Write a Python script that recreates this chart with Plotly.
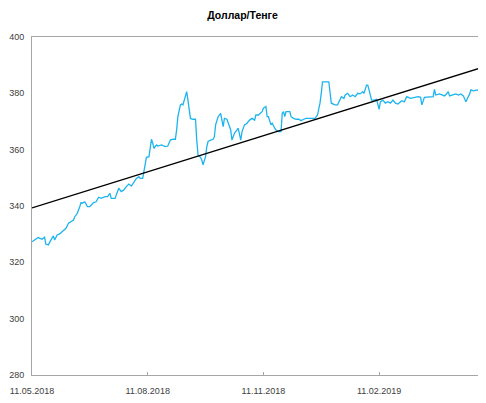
import plotly.graph_objects as go

# daily USD/KZT rate
dates = [
    "2018-05-11", "2018-05-13", "2018-05-16", "2018-05-19", "2018-05-21", "2018-05-22",
    "2018-05-24", "2018-05-26", "2018-05-28", "2018-05-29", "2018-05-31", "2018-06-02",
    "2018-06-05", "2018-06-07", "2018-06-09", "2018-06-11", "2018-06-13", "2018-06-14",
    "2018-06-16", "2018-06-18", "2018-06-19", "2018-06-20", "2018-06-22", "2018-06-24",
    "2018-06-26", "2018-06-29", "2018-07-01", "2018-07-03", "2018-07-05", "2018-07-08",
    "2018-07-10", "2018-07-12", "2018-07-13", "2018-07-16", "2018-07-18", "2018-07-19",
    "2018-07-21", "2018-07-23", "2018-07-25", "2018-07-27", "2018-07-29", "2018-07-31",
    "2018-08-02", "2018-08-04", "2018-08-05", "2018-08-07", "2018-08-08", "2018-08-09",
    "2018-08-10", "2018-08-12", "2018-08-14", "2018-08-15", "2018-08-16", "2018-08-18",
    "2018-08-19", "2018-08-22", "2018-08-25", "2018-08-27", "2018-08-29", "2018-08-31",
    "2018-09-02", "2018-09-03", "2018-09-04", "2018-09-06", "2018-09-07", "2018-09-08",
    "2018-09-10", "2018-09-11", "2018-09-12", "2018-09-14", "2018-09-16", "2018-09-18",
    "2018-09-19", "2018-09-20", "2018-09-22", "2018-09-23", "2018-09-24", "2018-09-26",
    "2018-09-27", "2018-09-28", "2018-09-30", "2018-10-02", "2018-10-03", "2018-10-04",
    "2018-10-06", "2018-10-08", "2018-10-10", "2018-10-11", "2018-10-13", "2018-10-16",
    "2018-10-17", "2018-10-19", "2018-10-21", "2018-10-22", "2018-10-24", "2018-10-25",
    "2018-10-27", "2018-10-29", "2018-10-31", "2018-11-02", "2018-11-04", "2018-11-05",
    "2018-11-07", "2018-11-09", "2018-11-10", "2018-11-11", "2018-11-13", "2018-11-14",
    "2018-11-15", "2018-11-17", "2018-11-18", "2018-11-20", "2018-11-21", "2018-11-23",
    "2018-11-25", "2018-11-26", "2018-11-27", "2018-11-28", "2018-11-29", "2018-12-02",
    "2018-12-03", "2018-12-05", "2018-12-07", "2018-12-09", "2018-12-11", "2018-12-13",
    "2018-12-15", "2018-12-18", "2018-12-20", "2018-12-22", "2018-12-24", "2018-12-26",
    "2018-12-27", "2018-12-28", "2018-12-31", "2019-01-02", "2019-01-04", "2019-01-07",
    "2019-01-09", "2019-01-12", "2019-01-14", "2019-01-15", "2019-01-17", "2019-01-19",
    "2019-01-21", "2019-01-23", "2019-01-25", "2019-01-27", "2019-01-29", "2019-01-30",
    "2019-02-01", "2019-02-02", "2019-02-03", "2019-02-05", "2019-02-07", "2019-02-09",
    "2019-02-11", "2019-02-12", "2019-02-14", "2019-02-16", "2019-02-18", "2019-02-20",
    "2019-02-22", "2019-02-24", "2019-02-26", "2019-02-27", "2019-03-01", "2019-03-03",
    "2019-03-05", "2019-03-08", "2019-03-11", "2019-03-14", "2019-03-16", "2019-03-17",
    "2019-03-19", "2019-03-23", "2019-03-26", "2019-03-27", "2019-03-28", "2019-03-31",
    "2019-04-02", "2019-04-04", "2019-04-06", "2019-04-07", "2019-04-08", "2019-04-11",
    "2019-04-13", "2019-04-15", "2019-04-17", "2019-04-19", "2019-04-21", "2019-04-24",
    "2019-04-25", "2019-04-27", "2019-04-30", "2019-05-02", "2019-05-06",
]
rate = [
    327.3, 327.9, 328.8, 328.2, 328.9, 326.5,
    326.2, 327.9, 329.4, 327.9, 329.7, 330.1,
    331.2, 332.1, 333.9, 334.4, 335.0, 336.2,
    337.4, 339.8, 341.2, 341.0, 341.5, 339.8,
    339.8, 341.2, 341.5, 343.1, 342.7, 343.3,
    343.3, 344.5, 342.7, 342.7, 345.1, 346.3,
    345.1, 345.7, 346.9, 347.8, 347.1, 348.6,
    349.8, 350.4, 349.8, 349.8, 352.2, 354.0,
    357.3, 357.5, 363.7, 362.3, 360.5, 361.7,
    361.3, 361.7, 361.1, 361.3, 363.4, 363.7,
    363.7, 367.0, 371.7, 375.9, 376.2, 375.9,
    378.8, 380.6, 377.6, 371.1, 370.8, 370.8,
    363.4, 358.1, 357.3, 356.3, 354.6, 357.5,
    361.1, 362.9, 363.4, 363.7, 364.6, 368.8,
    371.7, 372.9, 368.2, 371.1, 370.8, 367.0,
    363.4, 365.8, 367.0, 367.6, 363.4, 366.4,
    368.8, 369.4, 370.5, 371.1, 370.5, 372.3,
    372.3, 373.1, 373.5, 374.7, 375.3, 371.7,
    371.7, 368.8, 369.4, 367.6, 367.0, 366.4,
    366.4, 372.9, 373.5, 371.7, 373.5, 373.5,
    371.7, 371.1, 370.8, 370.8, 370.3, 370.8,
    371.1, 371.1, 371.1, 371.1, 372.3, 376.5,
    380.0, 384.1, 384.1, 384.1, 376.5, 375.9,
    375.9, 378.8, 378.2, 379.4, 380.0, 378.8,
    379.4, 378.8, 380.0, 379.8, 380.6, 380.0,
    382.9, 382.9, 381.2, 377.6, 377.6, 377.9,
    374.3, 377.0, 377.6, 376.5, 377.0, 376.5,
    377.6, 376.5, 376.2, 376.5, 377.4, 377.0,
    378.8, 378.2, 378.6, 378.8, 378.6, 375.9,
    378.6, 378.6, 378.8, 381.4, 379.4, 379.8,
    379.4, 379.1, 380.0, 380.6, 379.1, 379.4,
    379.8, 379.4, 379.8, 379.1, 377.0, 379.8,
    381.2, 380.9, 381.2, 380.8, 380.8,
]

# linear trend line (endpoints)
trend_dates = ["2018-05-11", "2019-05-07"]
trend_values = [339.3, 389.6]

tick_dates = ["2018-05-11", "2018-08-11", "2018-11-11", "2019-02-11"]
tick_labels = ["11.05.2018", "11.08.2018", "11.11.2018", "11.02.2019"]
y_ticks = [280, 300, 320, 340, 360, 380, 400]

FONT = "Liberation Sans"
AXIS_GREY = "#a6a6a6"

fig = go.Figure()

fig.add_trace(go.Scatter(
    x=dates, y=rate,
    mode="lines",
    line=dict(color="#1cb4ee", width=1.3),
    name="USD/KZT",
))

fig.add_trace(go.Scatter(
    x=trend_dates, y=trend_values,
    mode="lines",
    line=dict(color="#000000", width=1.3),
    name="Trend",
))

# page body has an 8px margin, so everything is offset by 8px
fig.update_layout(
    width=478, height=387,
    showlegend=False,
    plot_bgcolor="white",
    paper_bgcolor="white",
    margin=dict(l=24, r=0, t=29, b=20, autoexpand=False),
    title=dict(
        text="<b>Доллар/Тенге</b>",
        x=0.4906, xanchor="center", xref="container",
        y=0.982, yanchor="middle",
        font=dict(family=FONT, size=10.5, color="#000000"),
    ),
)

fig.update_xaxes(
    type="date",
    range=["2018-05-11", "2019-05-07"],
    tickvals=tick_dates,
    ticktext=tick_labels,
    showgrid=False,
    showline=True, linecolor=AXIS_GREY, linewidth=1,
    mirror=True,
    ticks="inside", ticklen=3, tickcolor=AXIS_GREY,
    ticklabelstandoff=7,
    tickfont=dict(family=FONT, size=9, color="#404040"),
    zeroline=False,
    automargin=False,
)

fig.update_yaxes(
    range=[280, 400],
    tickvals=y_ticks,
    showgrid=False,
    showline=True, linecolor=AXIS_GREY, linewidth=1,
    ticks="",
    ticklabelstandoff=5,
    tickfont=dict(family=FONT, size=9, color="#404040"),
    zeroline=False,
    automargin=False,
)

fig.write_html("out.html")
